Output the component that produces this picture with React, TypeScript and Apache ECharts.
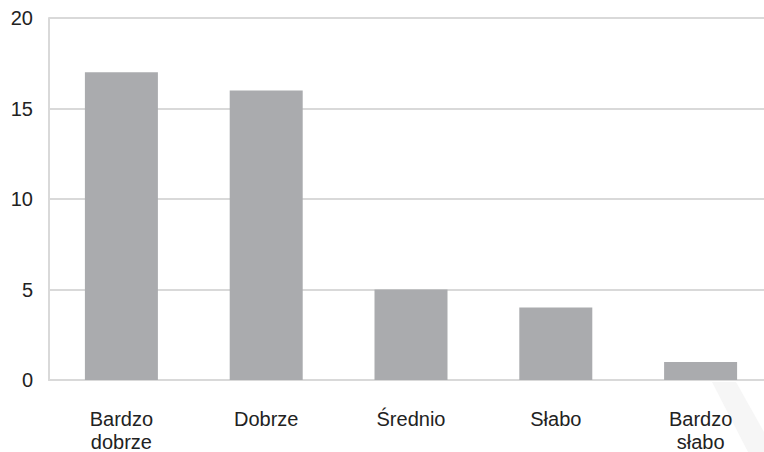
import React, { useEffect, useRef } from "react";
import * as echarts from "echarts";

const categories = ["Bardzo\ndobrze", "Dobrze", "Średnio", "Słabo", "Bardzo\nsłabo"];
const values = [17, 16, 5, 4, 1];

export default function App() {
  const ref = useRef<HTMLDivElement>(null);
  useEffect(() => {
    const chart = echarts.init(ref.current!, null, { renderer: "svg" });
    chart.setOption({
      animation: false,
      grid: {
        left: 49,
        top: 18,
        width: 724,
        bottom: 72,
        containLabel: false,
        outerBoundsMode: "none",
      },
      xAxis: {
        type: "category",
        data: categories,
        axisLine: { show: true, lineStyle: { color: "#d9d9d9", width: 2 } },
        axisTick: { show: false },
        axisLabel: {
          color: "#222",
          fontSize: 20,
          fontFamily: "Arial, Liberation Sans, sans-serif",
          margin: 27,
          lineHeight: 23,
          interval: 0,
        },
      },
      yAxis: {
        type: "value",
        min: 0,
        max: 20,
        interval: 5,
        axisLine: { show: true, lineStyle: { color: "#d9d9d9", width: 2 } },
        axisTick: { show: false },
        splitLine: { lineStyle: { color: "#d9d9d9", width: 2 } },
        axisLabel: {
          color: "#222",
          fontSize: 20,
          fontFamily: "Arial, Liberation Sans, sans-serif",
          margin: 16,
        },
      },
      series: [
        {
          type: "bar",
          data: values,
          barWidth: 73,
          itemStyle: { color: "#aaabae" },
        },
      ],
      graphic: [
        {
          type: "polygon",
          silent: true,
          z: -1,
          shape: {
            points: [
              [712, 382],
              [736, 382],
              [764, 432],
              [764, 452],
              [748, 452],
            ],
          },
          style: { fill: "#f6f6f6" },
        },
      ],
    });
    return () => chart.dispose();
  }, []);
  return <div ref={ref} style={{ width: 764, height: 452, position: "absolute", left: 0, top: 0 }} />;
}
